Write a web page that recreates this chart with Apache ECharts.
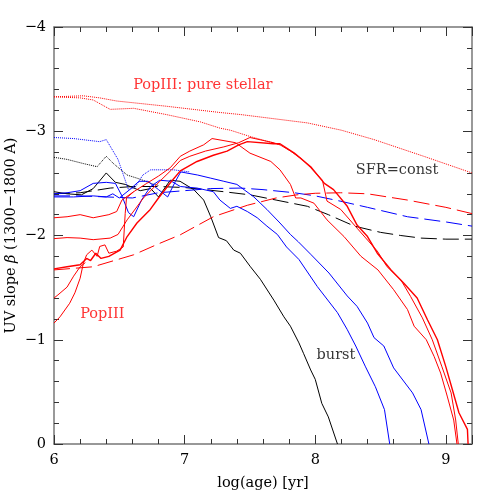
<!DOCTYPE html>
<html>
<head>
<meta charset="utf-8">
<script src="https://cdn.jsdelivr.net/npm/echarts@6/dist/echarts.min.js"></script>
<style>
  html, body { margin: 0; padding: 0; background: #fff; }
  #main { width: 498px; height: 498px; }
</style>
</head>
<body>
<div id="main"></div>
<script>
// log(age) vs UV slope, pairs are [log age, beta]
const blackBurst = [[6.0,-2.42],[6.1,-2.40],[6.21,-2.39],[6.3,-2.45],[6.40,-2.60],[6.47,-2.51],[6.545,-2.49],[6.66,-2.43],[6.74,-2.45],[6.80,-2.37],[6.89,-2.53],[6.965,-2.52],[7.07,-2.44],[7.146,-2.34],[7.20,-2.18],[7.26,-1.98],[7.32,-1.95],[7.376,-1.86],[7.427,-1.83],[7.504,-1.70],[7.58,-1.58],[7.683,-1.38],[7.76,-1.22],[7.81,-1.13],[7.875,-0.97],[7.91,-0.87],[7.965,-0.71],[8.0,-0.62],[8.05,-0.39],[8.10,-0.26],[8.17,0]];
const blackConst = [[6.0,-2.40],[6.2,-2.41],[6.43,-2.455],[6.61,-2.47],[6.8,-2.47],[7.0,-2.46],[7.12,-2.445],[7.3,-2.42],[7.5,-2.39],[7.7,-2.34],[7.94,-2.28],[8.1,-2.20],[8.3,-2.09],[8.5,-2.03],[8.655,-2.00],[8.81,-1.975],[9.0,-1.965],[9.2,-1.965]];
const blackStellar = [[6.0,-2.75],[6.1,-2.73],[6.225,-2.69],[6.33,-2.66],[6.40,-2.76],[6.455,-2.69],[6.56,-2.58],[6.66,-2.54],[6.74,-2.50],[6.80,-2.48]];

const blueBurstA = [[6.0,-2.37],[6.15,-2.37],[6.3,-2.38],[6.4,-2.37],[6.45,-2.40],[6.5,-2.36],[6.58,-2.44],[6.65,-2.52],[6.72,-2.52],[6.8,-2.44],[6.87,-2.37],[6.93,-2.52],[6.97,-2.61],[7.1,-2.58],[7.2,-2.55],[7.3,-2.52],[7.40,-2.49],[7.53,-2.37],[7.63,-2.25],[7.73,-2.12],[7.81,-2.01],[7.87,-1.94],[7.965,-1.82],[8.105,-1.64],[8.245,-1.42],[8.32,-1.32],[8.40,-1.16],[8.45,-1.02],[8.525,-0.94],[8.60,-0.73],[8.745,-0.49],[8.81,-0.33],[8.87,0]];
const blueBurstB = [[6.0,-2.40],[6.1,-2.41],[6.2,-2.43],[6.3,-2.50],[6.4,-2.51],[6.47,-2.50],[6.52,-2.38],[6.57,-2.22],[6.61,-2.18],[6.67,-2.34],[6.74,-2.47],[6.81,-2.53],[6.9,-2.52],[6.967,-2.47],[7.095,-2.455],[7.22,-2.42],[7.27,-2.34],[7.35,-2.26],[7.40,-2.28],[7.48,-2.23],[7.556,-2.17],[7.63,-2.09],[7.71,-2.01],[7.78,-1.89],[7.875,-1.77],[8.016,-1.51],[8.17,-1.26],[8.244,-1.10],[8.31,-0.94],[8.385,-0.74],[8.46,-0.55],[8.53,-0.33],[8.57,0]];
const blueConst = [[6.0,-2.38],[6.2,-2.38],[6.4,-2.37],[6.6,-2.36],[6.8,-2.41],[7.0,-2.43],[7.2,-2.45],[7.43,-2.455],[7.6,-2.44],[7.84,-2.41],[8.0,-2.38],[8.19,-2.33],[8.4,-2.27],[8.706,-2.18],[9.0,-2.13],[9.2,-2.09]];
const blueStellar = [[6.0,-2.94],[6.15,-2.93],[6.35,-2.90],[6.40,-2.92],[6.49,-2.73],[6.57,-2.44],[6.62,-2.46],[6.68,-2.58],[6.74,-2.63],[6.915,-2.63],[7.04,-2.61]];

const redBurst1 = [[6.0,-2.17],[6.1,-2.18],[6.2,-2.20],[6.3,-2.17],[6.42,-2.20],[6.48,-2.23],[6.52,-2.34],[6.61,-2.42],[6.71,-2.50],[6.8,-2.57],[6.89,-2.65],[6.967,-2.76],[7.04,-2.81],[7.146,-2.87],[7.21,-2.93],[7.39,-2.89],[7.50,-2.79],[7.66,-2.71],[7.73,-2.63],[7.81,-2.49],[7.85,-2.36],[7.89,-2.36],[7.99,-2.31],[8.09,-2.15],[8.22,-1.99],[8.35,-1.80],[8.48,-1.67],[8.60,-1.48],[8.706,-1.29],[8.757,-1.13],[8.85,-1.0],[8.91,-0.84],[8.96,-0.68],[9.01,-0.46],[9.06,-0.23],[9.085,0]];
const redBurst2 = [[6.0,-1.97],[6.1,-1.98],[6.2,-1.975],[6.3,-1.96],[6.43,-1.975],[6.49,-2.01],[6.56,-2.15],[6.685,-2.36],[6.81,-2.52],[6.9,-2.63],[6.967,-2.72],[7.04,-2.76],[7.16,-2.81],[7.3,-2.85],[7.414,-2.89],[7.50,-2.94],[7.68,-2.89],[7.73,-2.87],[7.81,-2.81],[7.89,-2.74],[7.965,-2.65],[8.055,-2.53],[8.09,-2.33],[8.195,-2.25],[8.32,-2.07],[8.475,-1.85],[8.55,-1.70],[8.655,-1.575],[8.73,-1.415],[8.82,-1.21],[8.896,-1.0],[8.97,-0.74],[9.04,-0.49],[9.075,-0.23],[9.095,0]];
const redBurst3 = [[6.0,-1.68],[6.1,-1.70],[6.2,-1.72],[6.25,-1.78],[6.28,-1.76],[6.32,-1.83],[6.36,-1.78],[6.42,-1.80],[6.506,-1.86],[6.56,-1.99],[6.635,-2.12],[6.737,-2.25],[6.8,-2.36],[6.9,-2.52],[6.967,-2.62],[7.095,-2.71],[7.22,-2.77],[7.325,-2.81],[7.414,-2.87],[7.48,-2.90],[7.68,-2.88],[7.73,-2.88],[7.84,-2.79],[7.965,-2.66],[8.07,-2.50],[8.14,-2.44],[8.245,-2.28],[8.32,-2.10],[8.40,-1.99],[8.475,-1.83],[8.58,-1.67],[8.68,-1.54],[8.78,-1.40],[8.86,-1.19],[8.935,-1.0],[9.0,-0.74],[9.05,-0.52],[9.10,-0.30],[9.165,-0.14],[9.17,0]];
const redBurst4 = [[6.0,-1.40],[6.03,-1.43],[6.1,-1.505],[6.15,-1.61],[6.2,-1.70],[6.24,-1.74]];
const redBurst5 = [[6.0,-1.16],[6.046,-1.22],[6.12,-1.35],[6.16,-1.45],[6.2,-1.59],[6.225,-1.735],[6.25,-1.815],[6.29,-1.86],[6.33,-1.80],[6.35,-1.895],[6.39,-1.91],[6.42,-1.83],[6.48,-1.85],[6.53,-1.89],[6.545,-2.21],[6.555,-2.36],[6.61,-2.42]];
const redConst = [[6.0,-1.67],[6.3,-1.70],[6.61,-1.815],[6.8,-1.92],[6.967,-2.007],[7.22,-2.18],[7.48,-2.29],[7.7,-2.36],[7.86,-2.39],[8.0,-2.405],[8.195,-2.41],[8.4,-2.40],[8.706,-2.34],[9.0,-2.27],[9.2,-2.21]];
const redStellarConst = [[6.0,-3.33],[6.225,-3.34],[6.35,-3.32],[6.48,-3.29],[6.86,-3.24],[7.27,-3.18],[7.43,-3.16],[7.94,-3.08],[8.2,-3.01],[8.45,-2.92],[8.83,-2.76],[9.2,-2.60]];
const redStellarBurst = [[6.0,-3.33],[6.2,-3.32],[6.30,-3.30],[6.43,-3.21],[6.61,-3.22],[6.86,-3.16],[7.12,-3.09],[7.27,-3.03],[7.35,-3.01],[7.5,-2.95],[7.73,-2.87]];

const xTicks = [6, 7, 8, 9];
const yTicks = [0, -1, -2, -3, -4];

const notes = [
  { name: 'PopIII: pure stellar', value: [6.606, -3.445], color: '#ff0000' },
  { name: 'SFR=const', value: [8.31, -2.63], color: '#000000' },
  { name: 'PopIII', value: [6.2, -1.24], color: '#ff0000' },
  { name: 'burst', value: [8.01, -0.85], color: '#000000' }
];

const RED = '#ff0000', BLUE = '#0000ff', BLACK = '#000000';
const FONT = 'DejaVu Serif';
const DASH = [16, 6];

function line(data, color, type, width) {
  return {
    type: 'line', data: data, showSymbol: false, symbol: 'none',
    lineStyle: { color: color, width: width || 1, type: type || 'solid' },
    silent: true
  };
}

function frameAxis(pos, isX, show) {
  const ax = {
    type: 'value', position: pos,
    min: isX ? 6 : -4, max: isX ? 9.2 : 0, interval: 1,
    axisLine: { show: true, onZero: false, lineStyle: { color: '#777', width: 1.5 } },
    axisTick: { show: true, inside: true, length: 9, lineStyle: { color: '#333' } },
    minorTick: { show: true, splitNumber: 5, length: 5, lineStyle: { color: '#333' } },
    splitLine: { show: false },
    axisLabel: {
      show: show, fontFamily: FONT, fontSize: 14.5, color: '#000', margin: isX ? 9 : 8,
      formatter: function (v) {
        const list = isX ? xTicks : yTicks;
        return list.indexOf(v) >= 0 ? String(v).replace('-', '\u2212') : '';
      }
    }
  };
  if (!isX) ax.inverse = true;
  return ax;
}

const chart = echarts.init(document.getElementById('main'));

const xBottom = frameAxis('bottom', true, true);
xBottom.name = 'log(age) [yr]';
xBottom.nameLocation = 'middle';
xBottom.nameGap = 32;
xBottom.nameMoveOverlap = false;
xBottom.nameTextStyle = { fontFamily: FONT, fontSize: 14.5, color: '#000' };

const yLeft = frameAxis('left', false, true);
yLeft.name = 'UV slope {b|\u03b2} (1300\u22121800 A)';
yLeft.nameLocation = 'middle';
yLeft.nameGap = 35;
yLeft.nameMoveOverlap = false;
yLeft.nameTextStyle = { fontFamily: FONT, fontSize: 14.5, color: '#000', rich: { b: { fontFamily: FONT, fontSize: 14.5, fontStyle: 'italic', color: '#000' } } };

chart.setOption({
  animation: false,
  backgroundColor: '#fff',
  grid: { left: 54, right: 26, top: 27, bottom: 54, containLabel: false, outerBoundsMode: 'none' },
  xAxis: [xBottom, frameAxis('top', true, false)],
  yAxis: [yLeft, frameAxis('right', false, false)],
  series: [
    line(blackStellar, BLACK, 'dotted'),
    line(blackConst, BLACK, DASH),
    line(blackBurst, BLACK),
    line(blueStellar, BLUE, 'dotted'),
    line(blueConst, BLUE, DASH),
    line(blueBurstA, BLUE),
    line(blueBurstB, BLUE),
    line(redStellarConst, RED, 'dotted'),
    line(redStellarBurst, RED, 'dotted'),
    line(redConst, RED, DASH),
    line(redBurst1, RED),
    line(redBurst2, RED),
    line(redBurst3, RED, 'solid', 1.4),
    line(redBurst4, RED),
    line(redBurst5, RED),
    {
      type: 'scatter', symbolSize: 0, silent: true,
      data: notes.map(function (n) {
        return { name: n.name, value: n.value, label: { color: n.color } };
      }),
      label: {
        show: true, position: 'right', distance: 0,
        fontFamily: FONT, fontSize: 14.5,
        formatter: function (p) { return p.name; }
      }
    }
  ]
});
</script>
</body>
</html>
